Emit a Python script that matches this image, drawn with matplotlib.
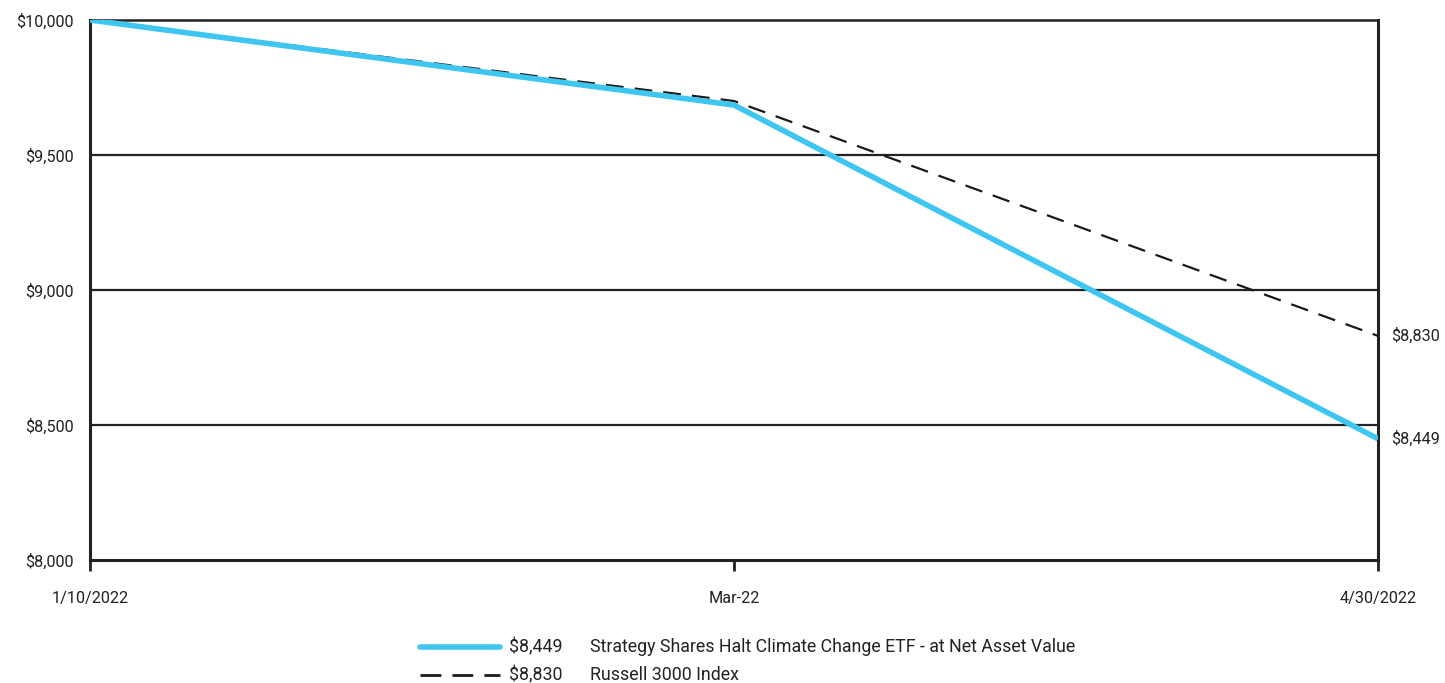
import matplotlib
matplotlib.use("Agg")
import matplotlib.pyplot as plt
from matplotlib.lines import Line2D

plt.rcParams['font.family'] = ['Roboto', 'DejaVu Sans']

dates = ["1/10/2022", "Mar-22", "4/30/2022"]
fund = [10000, 9685, 8449]
index = [10000, 9700, 8830]
fund_name = "Strategy Shares Halt Climate Change ETF - at Net Asset Value"
index_name = "Russell 3000 Index"
yticks = [8000, 8500, 9000, 9500, 10000]

W, H = 1445, 683
fig = plt.figure(figsize=(W / 100, H / 100), dpi=100)
ax = fig.add_axes([90 / W, 1 - 560 / H, (1378 - 90) / W, (560 - 20) / H])

x = list(range(len(dates)))
blue = "#3EC6F0"
ax.plot(x, index, color="#1a1a1a", lw=1.6, dashes=(8, 5), zorder=3, solid_capstyle="butt")
ax.plot(x, fund, color=blue, lw=4, zorder=4, solid_capstyle="butt")

ax.set_xlim(0, 2)
ax.set_ylim(8000, 10000)
ax.set_yticks(yticks)
ax.set_yticklabels([f"${v:,.0f}" for v in yticks])
ax.set_xticks(x)
ax.set_xticklabels(dates)
for v in yticks[1:-1]:
    ax.axhline(v, color="#222222", lw=1.6, zorder=1)

for s in ["left", "bottom", "right", "top"]:
    ax.spines[s].set_color("#222222")
    ax.spines[s].set_linewidth(2.2)
ax.spines["top"].set_linewidth(1.8)
ax.tick_params(axis="y", length=0, pad=12, labelsize=11.7, colors="#222222")
ax.tick_params(axis="x", length=8, width=2, color="#222222", pad=14, labelsize=11.7, labelcolor="#222222")
ax.set_facecolor("white")

ax.text(2.02, index[-1], f"${index[-1]:,.0f}", va="center", ha="left", fontsize=11.7, color="#222222")
ax.text(2.02, fund[-1], f"${fund[-1]:,.0f}", va="center", ha="left", fontsize=11.7, color="#222222")

# legend
def fy(py):
    return 1 - py / H
fig.add_artist(Line2D([420 / W, 500 / W], [fy(647), fy(647)], color=blue, lw=4, solid_capstyle="round"))
fig.add_artist(Line2D([420 / W, 500 / W], [fy(675), fy(675)], color="#1a1a1a", lw=2, dashes=(7.5, 4)))
fig.text(509 / W, fy(647), f"${fund[-1]:,.0f}", va="center", ha="left", fontsize=12.8, color="#222222")
fig.text(590 / W, fy(647), fund_name, va="center", ha="left", fontsize=12.8, color="#222222")
fig.text(509 / W, fy(675), f"${index[-1]:,.0f}", va="center", ha="left", fontsize=12.8, color="#222222")
fig.text(590 / W, fy(675), index_name, va="center", ha="left", fontsize=12.8, color="#222222")

fig.savefig("out.png", dpi=100, facecolor="white")
